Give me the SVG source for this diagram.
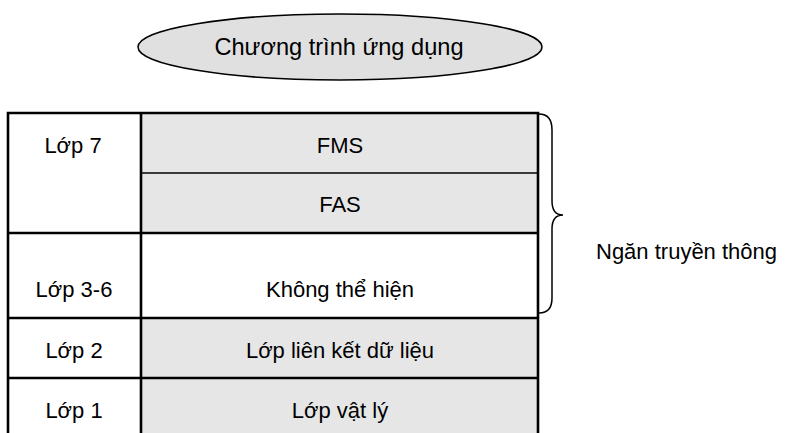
<svg xmlns="http://www.w3.org/2000/svg" width="792" height="433" viewBox="0 0 792 433">
<style>
text{font-family:"Liberation Sans",Arial,sans-serif;font-size:22px;fill:#000}
.c{text-anchor:middle}
.g{fill:#e6e6e6;stroke:none}
.thick{stroke:#000;stroke-width:2.6;fill:none}
.thin{stroke:#000;stroke-width:1.3;fill:none}
</style>
<rect width="792" height="433" fill="#fff"/>
<g id="app">
<ellipse cx="340" cy="47" rx="202" ry="33" fill="#e0e0e0" stroke="#000" stroke-width="1.5"/>
<text class="c" x="339" y="55" style="font-size:23.6px">Chương trình ứng dụng</text>
</g>
<g id="fills">
<rect class="g" x="141" y="113" width="397" height="120"/>
<rect class="g" x="141" y="318" width="397" height="115"/>
</g>
<g id="lop7"><text class="c" x="73" y="153">Lớp 7</text></g>
<g id="fms"><text class="c" x="340" y="153">FMS</text></g>
<g id="fas"><text class="c" x="340" y="212">FAS</text></g>
<g id="lop36"><text class="c" x="74" y="297">Lớp 3-6</text></g>
<g id="khong"><text class="c" x="340" y="297">Không thể hiện</text></g>
<g id="lop2"><text class="c" x="74" y="358">Lớp 2</text></g>
<g id="datalink"><text class="c" x="340" y="358">Lớp liên kết dữ liệu</text></g>
<g id="lop1"><text class="c" x="74" y="418">Lớp 1</text></g>
<g id="phys"><text class="c" x="340" y="418">Lớp vật lý</text></g>
<g id="grid">
<path class="thick" d="M8,440 V113 H538 V440"/>
<path class="thick" d="M141,113 V440"/>
<path class="thick" d="M8,233 H538 M8,318 H538 M8,378 H538"/>
<path class="thin" d="M141,173 H538"/>
</g>
<g id="connectors">
<path d="M539,114 Q552,114 552,130 V201 Q552,215 563,215 Q552,215 552,229 V298 Q552,313 539,313" fill="none" stroke="#000" stroke-width="1.5"/>
</g>
<g id="label"><text x="596" y="259">Ngăn truyền thông</text></g>
</svg>
